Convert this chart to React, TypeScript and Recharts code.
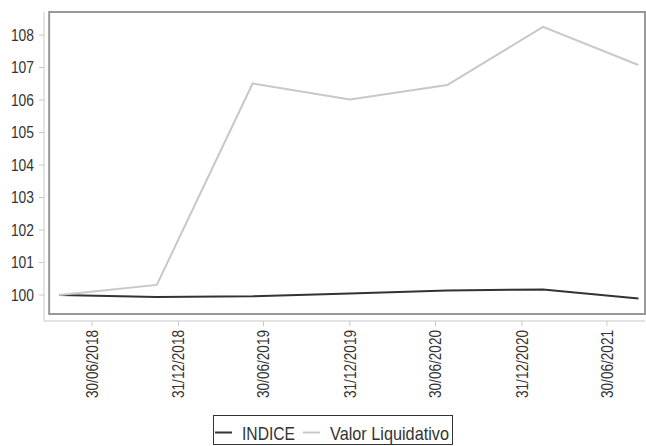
import React from 'react';
import { LineChart, Line, XAxis, YAxis, ReferenceArea, Legend } from 'recharts';

// dates of the points (estimated from positions on the time axis)
const dates = ['2018-04-22', '2018-11-15', '2019-06-07', '2019-12-31', '2020-07-25', '2021-02-14', '2021-09-05'];
const indice = [100.0, 99.94, 99.96, 100.05, 100.14, 100.17, 99.89];
const valorLiquidativo = [100.0, 100.31, 106.51, 106.02, 106.46, 108.25, 107.08];

const tickDates = ['2018-06-30', '2018-12-31', '2019-06-30', '2019-12-31', '2020-06-30', '2020-12-31', '2021-06-30'];
const yTicks = [100, 101, 102, 103, 104, 105, 106, 107, 108];

const toTs = (d: string) => new Date(d + 'T00:00:00Z').getTime();
const DAY = 86400000;

const data = dates.map((d, i) => ({
    t: toTs(d),
    indice: indice[i],
    valor: valorLiquidativo[i],
}));

const xMin = toTs('2018-03-20');
const xMax = toTs('2021-09-19');
const yMin = 99.2;
const yMax = 108.71;

// narrow look: Liberation Sans squeezed with textLength
const FONT = "'Liberation Sans', Arial, sans-serif";
const TEXT = '#333333';
const NARROW = 0.83;

const fmtDate = (ts: number) => {
    const d = new Date(ts);
    const dd = String(d.getUTCDate()).padStart(2, '0');
    const mm = String(d.getUTCMonth() + 1).padStart(2, '0');
    return `${dd}/${mm}/${d.getUTCFullYear()}`;
};

const XTick = (props: any) => {
    const { x, y, payload } = props;
    return (
        <text
            transform={`translate(${x},${y + 2}) rotate(-90)`}
            textAnchor="end"
            dy="0.35em"
            fontFamily={FONT}
            fontSize={16.5}
            fill={TEXT}
            textLength={68}
            lengthAdjust="spacingAndGlyphs"
        >
            {fmtDate(payload.value)}
        </text>
    );
};

const YTick = (props: any) => {
    const { x, y, payload } = props;
    const s = String(payload.value);
    return (
        <text
            x={x}
            y={y}
            textAnchor="end"
            dy="0.35em"
            fontFamily={FONT}
            fontSize={16.5}
            fill={TEXT}
            textLength={s.length * 7.7}
            lengthAdjust="spacingAndGlyphs"
        >
            {s}
        </text>
    );
};

const LegendBox = (props: any) => {
    const items = props.payload || [];
    const widths = [53, 119];
    let cx = 2;
    return (
        <svg width={240} height={30} style={{ display: 'block' }}>
            <rect x={0.5} y={0.5} width={239} height={29} fill="#fff" stroke="#333" strokeWidth={1} />
            {items.map((it: any, i: number) => {
                const lx = cx;
                const tw = widths[i] ?? String(it.value).length * 7 * NARROW;
                cx = lx + 17 + 10 + tw + 8;
                return (
                    <g key={i}>
                        <line x1={lx} x2={lx + 17} y1={17.5} y2={17.5} stroke={it.color} strokeWidth={2} />
                        <text
                            x={lx + 27}
                            y={24.5}
                            fontFamily={FONT}
                            fontSize={19}
                            fill={TEXT}
                            textLength={tw}
                            lengthAdjust="spacingAndGlyphs"
                        >
                            {it.value}
                        </text>
                    </g>
                );
            })}
        </svg>
    );
};

export default function App() {
    return (
        <div style={{ position: 'absolute', left: 0, top: 0, background: '#fff' }}>
            <LineChart width={646} height={446} data={data} margin={{ top: 12, right: 1, bottom: 0, left: 0 }}>
                <XAxis
                    dataKey="t"
                    type="number"
                    scale="time"
                    domain={[xMin, xMax]}
                    ticks={tickDates.map(toTs)}
                    tick={<XTick />}
                    height={95}
                    allowDataOverflow
                    stroke="#c8c8c8"
                    tickSize={5}
                    interval={0}
                />
                <YAxis
                    type="number"
                    domain={[yMin, yMax]}
                    ticks={yTicks}
                    width={44}
                    allowDataOverflow
                    stroke="#c8c8c8"
                    tickSize={5}
                    tickMargin={5}
                    tick={<YTick />}
                    interval={0}
                />
                <ReferenceArea
                    x1={xMin + 11 * DAY}
                    x2={xMax}
                    y1={99.415}
                    y2={yMax}
                    fill="none"
                    stroke="#999"
                    strokeWidth={2}
                    fillOpacity={0}
                    ifOverflow="visible"
                />
                <Line
                    name="INDICE"
                    dataKey="indice"
                    stroke="#333"
                    strokeWidth={2}
                    dot={false}
                    isAnimationActive={false}
                />
                <Line
                    name="Valor Liquidativo"
                    dataKey="valor"
                    stroke="#c8c8c8"
                    strokeWidth={2}
                    dot={false}
                    isAnimationActive={false}
                />
                <Legend
                    verticalAlign="bottom"
                    content={<LegendBox />}
                    wrapperStyle={{ left: 213, top: 415, width: 240, height: 30 }}
                />
            </LineChart>
        </div>
    );
}
